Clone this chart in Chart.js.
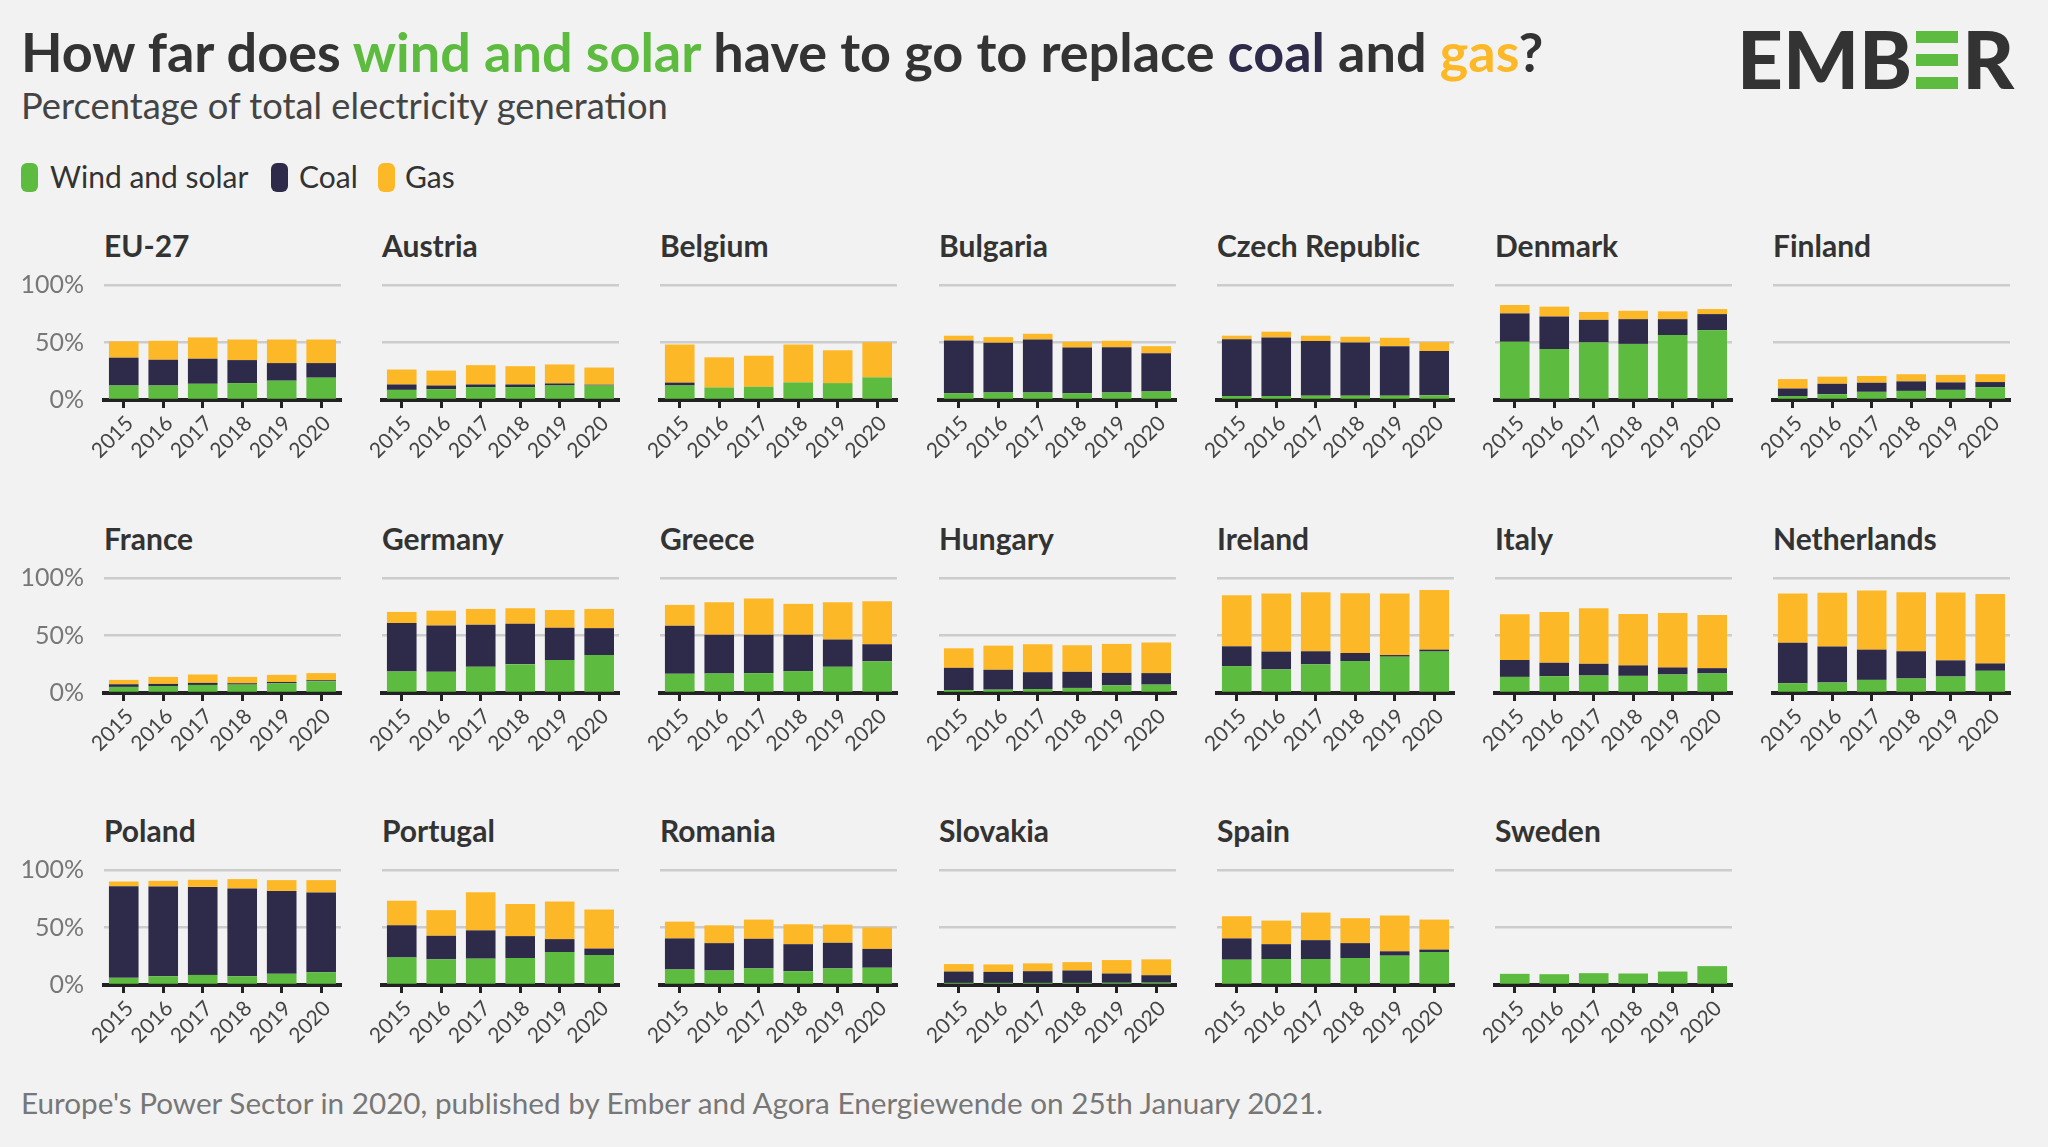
<!DOCTYPE html>
<html>
<head>
<meta charset="utf-8">
<script src="https://cdn.jsdelivr.net/npm/chart.js@4.4.1/dist/chart.umd.min.js"></script>
<style>
  html, body { margin: 0; padding: 0; }
  body { width: 2048px; height: 1147px; background: #f2f2f2; position: relative; overflow: hidden; font-family: Lato, "Noto Sans", sans-serif; }
  .abs { position: absolute; white-space: nowrap; }
  #title { left: 21px; top: 25px; font-size: 54px; line-height: 54px; font-weight: 700; color: #333; }
  #subtitle { left: 21px; top: 87px; font-size: 36.3px; line-height: 36px; color: #444; }
  .leg { top: 161px; font-size: 30px; line-height: 30px; color: #333; }
  .mark { top: 163px; width: 17px; height: 29px; border-radius: 6px; }
  #footer { left: 21px; top: 1088px; font-size: 29.7px; line-height: 30px; color: #777; }
  #logo { left: 1737px; top: 18px; font-size: 80px; line-height: 80px; font-weight: 900; color: #333; letter-spacing: 0px; }
  #logoE { display: inline-block; position: relative; width: 42px; height: 58px; margin: 0 4px 0 4px; }
  #logoE div { position: absolute; left: 0; width: 42px; height: 12px; background: #5dbb3f; }
  .ptitle { font-size: 30px; line-height: 30px; font-weight: 700; color: #333; }
  .panel { position: absolute; }
</style>
</head>
<body>
<div id="title" class="abs">How far does <span style="color:#5dbb3f">wind and solar</span> have to go to replace <span style="color:#2e2b4a">coal</span> and <span style="color:#fdb827">gas</span>?</div>
<div id="subtitle" class="abs">Percentage of total electricity generation</div>
<div class="abs mark" style="left:21px;background:#5dbb3f"></div>
<div class="abs leg" style="left:50px">Wind and solar</div>
<div class="abs mark" style="left:271px;background:#2e2b4a"></div>
<div class="abs leg" style="left:299px">Coal</div>
<div class="abs mark" style="left:378px;background:#fdb827"></div>
<div class="abs leg" style="left:405px">Gas</div>
<div id="logo" class="abs">EMB<span id="logoE"><div style="top:0"></div><div style="top:23px"></div><div style="top:46px"></div></span>R</div>
<div id="footer" class="abs">Europe's Power Sector in 2020, published by Ember and Agora Energiewende on 25th January 2021.</div>
<div id="panels"></div>
<script>
// ---- data ----
const years = ['2015', '2016', '2017', '2018', '2019', '2020'];
const countries = ['EU-27', 'Austria', 'Belgium', 'Bulgaria', 'Czech Republic', 'Denmark', 'Finland',
  'France', 'Germany', 'Greece', 'Hungary', 'Ireland', 'Italy', 'Netherlands',
  'Poland', 'Portugal', 'Romania', 'Slovakia', 'Spain', 'Sweden'];
const yTicks = [0, 50, 100];

// % of generation, one row per country (same order as countries)
const windSolar = [
  [12.6, 12.6, 14.1, 14.7, 16.8, 19.4], // EU-27
  [8.8, 9.4, 11.2, 11.2, 12.6, 12.6],   // Austria
  [12.6, 10.9, 11.5, 15.3, 14.7, 19.7], // Belgium
  [5.9, 6.5, 6.5, 5.9, 6.5, 7.4],       // Bulgaria
  [3.5, 3.5, 3.8, 3.8, 3.8, 4.1],       // Czech Republic
  [50.6, 44.4, 50.0, 48.8, 56.5, 60.6], // Denmark
  [3.5, 5.0, 7.1, 7.9, 8.8, 11.2],      // Finland
  [5.3, 6.1, 7.0, 7.3, 8.5, 10.2],      // France
  [18.7, 18.4, 22.8, 24.9, 28.7, 33.0], // Germany
  [16.7, 17.0, 17.3, 19.0, 22.8, 27.5], // Greece
  [2.6, 2.9, 3.5, 4.4, 6.7, 7.3],       // Hungary
  [23.4, 20.5, 24.9, 27.8, 31.6, 36.0], // Ireland
  [14.0, 14.6, 15.2, 14.9, 16.1, 17.0], // Italy
  [8.5, 9.1, 11.4, 12.6, 14.3, 19.3],   // Netherlands
  [6.2, 7.6, 8.8, 7.6, 9.7, 11.1],      // Poland
  [24.0, 22.3, 22.9, 23.5, 28.7, 26.1], // Portugal
  [13.5, 12.6, 14.4, 12.0, 14.4, 15.0], // Romania
  [1.8, 1.8, 1.8, 1.8, 1.9, 2.0],       // Slovakia
  [22.0, 22.6, 22.6, 23.5, 25.5, 28.7], // Spain
  [9.7, 9.4, 10.3, 10.0, 11.7, 16.4]    // Sweden
];
const coal = [
  [24.2, 22.4, 21.8, 20.0, 15.3, 12.7],
  [4.7, 3.2, 2.3, 2.3, 1.8, 0.7],
  [2.5, 0, 0, 0, 0, 0],
  [45.9, 43.2, 46.1, 39.7, 39.4, 33.2],
  [49.4, 50.9, 47.4, 46.2, 43.0, 38.5],
  [24.7, 28.2, 19.7, 21.5, 13.8, 14.1],
  [6.5, 9.1, 7.9, 8.3, 6.5, 4.4],
  [2.3, 1.8, 1.8, 1.2, 1.1, 0.9],
  [42.1, 40.4, 36.6, 35.3, 28.0, 23.4],
  [41.8, 33.6, 33.3, 31.6, 23.7, 14.9],
  [19.3, 17.3, 14.6, 14.0, 10.8, 10.0],
  [17.2, 15.5, 11.4, 7.0, 1.4, 1.7],
  [14.7, 11.7, 10.2, 9.1, 6.1, 4.6],
  [35.1, 31.3, 26.3, 23.7, 14.1, 6.4],
  [79.7, 78.0, 76.5, 76.3, 72.1, 69.3],
  [27.9, 20.5, 24.6, 19.0, 11.2, 5.6],
  [27.0, 23.8, 25.8, 23.5, 22.3, 16.4],
  [9.9, 9.6, 10.2, 10.8, 8.1, 6.5],
  [18.5, 12.9, 16.4, 12.9, 3.8, 2.1],
  [0, 0, 0, 0, 0, 0]
];
const gas = [
  [14.1, 16.5, 18.5, 17.9, 20.5, 20.5],
  [13.0, 13.0, 16.8, 15.9, 16.5, 14.9],
  [33.1, 26.2, 27.0, 32.9, 28.5, 30.6],
  [4.1, 5.0, 5.0, 5.0, 5.6, 6.2],
  [3.0, 5.0, 4.7, 5.0, 7.3, 7.7],
  [7.3, 8.6, 6.8, 7.3, 6.8, 4.4],
  [8.2, 6.2, 5.9, 6.2, 6.5, 6.8],
  [3.8, 6.1, 7.3, 5.5, 6.2, 6.2],
  [9.7, 12.8, 13.7, 13.5, 15.5, 16.7],
  [18.1, 28.3, 31.6, 26.9, 32.4, 37.4],
  [17.0, 21.0, 24.3, 23.1, 25.2, 26.6],
  [44.5, 50.5, 51.4, 52.0, 53.5, 51.8],
  [39.7, 44.2, 48.3, 44.7, 47.4, 46.2],
  [42.9, 46.7, 51.5, 51.4, 59.0, 60.3],
  [4.1, 5.0, 6.2, 8.2, 9.4, 10.8],
  [21.4, 22.3, 33.1, 27.9, 32.8, 34.0],
  [14.6, 15.5, 16.7, 17.3, 15.8, 18.7],
  [6.5, 6.5, 6.8, 7.3, 11.7, 13.8],
  [19.3, 20.5, 24.0, 21.7, 31.1, 26.1],
  [0, 0, 0, 0, 0, 0]
];

// ---- layout / style ----
const COLORS = { wind: '#5dbb3f', coal: '#2e2b4a', gas: '#fdb827' };
const NCOL = 7;
const PLOT_X0 = 104, COL_W = 278.2, PLOT_W = 238;
const ROW_TOP = [285, 577.5, 869.5];
const AREA_H = 114.5;
const PAD_TOP = 20;
const XAX_H = 75;
const FONT = 'Lato';

const container = document.getElementById('panels');

countries.forEach((name, idx) => {
  const col = idx % NCOL, row = Math.floor(idx / NCOL);
  const first = col === 0;
  const plotLeft = Math.round(PLOT_X0 + COL_W * col);
  const yW = first ? plotLeft : 30;
  const left = plotLeft - yW;
  const top = Math.round(ROW_TOP[row] - PAD_TOP);
  const w = yW + PLOT_W;
  const h = Math.round(PAD_TOP + AREA_H + XAX_H);

  const t = document.createElement('div');
  t.className = 'abs ptitle';
  t.style.left = plotLeft + 'px';
  t.style.top = Math.round(ROW_TOP[row] - 55) + 'px';
  t.textContent = name;
  document.body.appendChild(t);

  const wrap = document.createElement('div');
  wrap.className = 'panel';
  wrap.style.left = left + 'px';
  wrap.style.top = top + 'px';
  wrap.style.width = w + 'px';
  wrap.style.height = h + 'px';
  const cv = document.createElement('canvas');
  cv.width = w; cv.height = h;
  cv.style.width = w + 'px'; cv.style.height = h + 'px';
  wrap.appendChild(cv);
  container.appendChild(wrap);

  new Chart(cv, {
    type: 'bar',
    data: {
      labels: years,
      datasets: [
        { label: 'Wind and solar', data: windSolar[idx], backgroundColor: COLORS.wind },
        { label: 'Coal', data: coal[idx], backgroundColor: COLORS.coal },
        { label: 'Gas', data: gas[idx], backgroundColor: COLORS.gas }
      ]
    },
    options: {
      responsive: false,
      animation: false,
      devicePixelRatio: 1,
      layout: { padding: { top: PAD_TOP, right: 0, bottom: 0, left: 0 } },
      plugins: { legend: { display: false }, tooltip: { enabled: false }, title: { display: false } },
      datasets: { bar: { categoryPercentage: 1.0, barPercentage: 0.75, borderWidth: 0 } },
      scales: {
        x: {
          stacked: true,
          offset: true,
          grid: { display: true, drawOnChartArea: false, drawTicks: true, tickLength: 8, tickWidth: 3, tickColor: '#222', offset: false, color: '#222', lineWidth: 3 },
          border: { display: true, color: '#222', width: 4 },
          ticks: { minRotation: 45, maxRotation: 45, autoSkip: false, color: '#444', font: { family: FONT, size: 21 }, padding: 3, labelOffset: 6 },
          afterFit: s => { s.height = XAX_H; }
        },
        y: {
          stacked: true,
          min: 0, max: 100,
          afterBuildTicks: s => { s.ticks = yTicks.map(v => ({ value: v })); },
          ticks: { display: first, color: '#777', font: { family: FONT, size: 25 }, padding: 0, callback: v => v + '%' },
          grid: {
            color: c => (c.tick && c.tick.value === 0) ? 'rgba(0,0,0,0)' : '#cccccc',
            lineWidth: 2.5,
            drawTicks: true, tickLength: 20, tickColor: 'rgba(0,0,0,0)'
          },
          border: { display: false },
          afterFit: s => { s.width = yW; }
        }
      }
    }
  });
});
</script>
</body>
</html>
